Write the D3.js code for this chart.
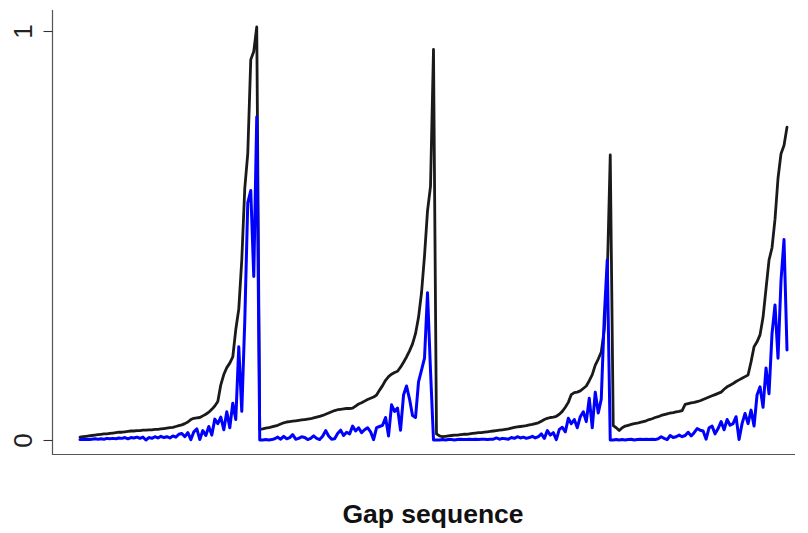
<!DOCTYPE html>
<html>
<head>
<meta charset="utf-8">
<script src="https://cdn.jsdelivr.net/npm/d3@7"></script>
<style>
  html, body { margin: 0; padding: 0; background: #ffffff; }
  svg { display: block; }
</style>
</head>
<body>
<script>
// ---- data ----
const yTickValues = [0, 1];
const yTickLabels = ["0", "1"];
const xLabel = "Gap sequence";

// black series (four cycles)
const blackCycle1 = [.007,.008,.009,.010,.011,.012,.013,.014,.015,.015,.016,.017,.018,.019,.019,.020,.021,.022,.022,.023,
  .023,.024,.024,.025,.025,.026,.026,.027,.028,.029,.030,.031,.033,.035,.037,.040,.044,.050,.053,.054,
  .055,.059,.063,.068,.075,.083,.094,.135,.160,.177,.188,.203,.27,.32,.44,.615,.70,.93,.95,1.01];
const blackCycle2 = [.026,.027,.029,.030,.032,.034,.036,.039,.042,.044,.045,.046,.047,.048,.049,.050,.051,.052,.054,.056,
  .058,.060,.063,.066,.069,.072,.074,.075,.076,.077,.077,.078,.083,.088,.091,.095,.099,.102,.105,.110,
  .122,.133,.146,.155,.161,.165,.168,.178,.190,.203,.218,.235,.26,.30,.36,.45,.56,.62,.955];
const blackCycle3 = [.015,.010,.008,.009,.010,.011,.012,.012,.013,.014,.014,.015,.016,.017,.018,.018,.019,.020,.021,.022,
  .023,.024,.025,.026,.027,.029,.031,.032,.033,.034,.035,.037,.038,.040,.042,.046,.050,.053,.055,.056,
  .058,.063,.070,.080,.092,.111,.116,.117,.120,.126,.132,.145,.160,.183,.198,.215,.27,.40,.697];
const blackCycle4 = [.035,.030,.023,.030,.034,.036,.038,.040,.041,.043,.045,.047,.050,.052,.055,.057,.060,.062,.064,.066,
  .067,.069,.070,.072,.087,.089,.091,.092,.094,.096,.099,.102,.105,.108,.111,.114,.117,.124,.130,.134,
  .138,.143,.147,.151,.155,.159,.191,.228,.240,.257,.30,.37,.44,.47,.54,.64,.70,.72,.765];

// blue series (four cycles)
const blueCycle1 = [.001,.001,.002,.001,.002,.003,.002,.003,.002,.004,.003,.004,.003,.005,.004,.006,.003,.006,.005,.007,
  .004,.007,.000,.006,.004,.008,.005,.009,.006,.008,.005,.010,.007,.014,.016,.008,.018,.001,.020,.027,
  .001,.023,.011,.033,.012,.051,.040,.056,.025,.069,.030,.090,.050,.228,.070,.29,.58,.61,.40,.79];
const blueCycle2 = [.000,.000,.001,.000,.001,.003,.007,.002,.009,.003,.006,.013,.002,.004,.008,.006,.001,.004,.010,.004,
  .001,.009,.023,.010,.002,.003,.016,.024,.011,.019,.015,.034,.022,.030,.018,.025,.030,.020,.001,.030,
  .033,.036,.055,.010,.086,.070,.078,.024,.110,.132,.100,.060,.055,.142,.171,.20,.36,.17,.000];
const blueCycle3 = [.000,.000,.001,.000,.001,.001,.000,.001,.002,.001,.001,.002,.001,.002,.001,.002,.002,.001,.002,.002,
  .005,.002,.004,.003,.002,.006,.004,.008,.005,.007,.004,.006,.009,.005,.008,.015,.004,.023,.012,.018,
  .001,.026,.031,.020,.053,.040,.050,.030,.057,.069,.045,.102,.030,.117,.066,.100,.30,.44,.000];
const blueCycle4 = [.000,.001,.000,.001,.000,.001,.002,.000,.001,.002,.001,.002,.001,.002,.001,.003,.008,.004,.001,.011,
  .006,.008,.012,.008,.011,.019,.010,.018,.028,.024,.022,.002,.030,.034,.015,.028,.045,.025,.050,.036,
  .040,.057,.001,.040,.065,.040,.073,.034,.110,.130,.080,.176,.113,.26,.33,.20,.39,.49,.22];

const blackSeries = [].concat(blackCycle1, blackCycle2, blackCycle3, blackCycle4);
const blueSeries = [].concat(blueCycle1, blueCycle2, blueCycle3, blueCycle4);

// ---- layout ----
const W = 808, H = 533;
const svg = d3.select("body").append("svg").attr("width", W).attr("height", H);

const n = blackSeries.length;
const x = d3.scaleLinear().domain([0, n - 1]).range([80, 787]);
const y = d3.scaleLinear().domain([0, 1]).range([440, 31]);

const fontFam = "'Liberation Sans', Arial, Helvetica, sans-serif";

// L-shaped frame
svg.append("path")
  .attr("d", "M52.5,10 L52.5,454.5 L795,454.5")
  .attr("fill", "none").attr("stroke", "#555").attr("stroke-width", 1.2);

// y axis ticks & labels
const yAxis = d3.axisLeft(y).tickValues(yTickValues).tickSize(9).tickFormat((d, i) => yTickLabels[i]);
const gy = svg.append("g").attr("transform", "translate(52.5,0)").call(yAxis);
gy.select(".domain").remove();
gy.selectAll(".tick line").attr("stroke", "#333").attr("stroke-width", 1.1);
gy.selectAll(".tick text")
  .attr("font-family", fontFam).attr("font-size", 26).attr("fill", "#222")
  .attr("x", 0).attr("y", 0)
  .attr("text-anchor", "middle")
  .attr("transform", "translate(-30,0) rotate(-90)")
  .attr("dy", "0.36em");

// lines
const line = d3.line().x((d, i) => x(i)).y(d => y(d));
svg.append("path").datum(blackSeries).attr("d", line)
  .attr("fill", "none").attr("stroke", "#1a1a1a").attr("stroke-width", 2.8)
  .attr("stroke-linejoin", "round").attr("stroke-linecap", "round");
svg.append("path").datum(blueSeries).attr("d", line)
  .attr("fill", "none").attr("stroke", "#0000ff").attr("stroke-width", 3)
  .attr("stroke-linejoin", "round").attr("stroke-linecap", "round");

// x label
svg.append("text").attr("x", 433).attr("y", 523)
  .attr("text-anchor", "middle").attr("font-family", fontFam)
  .attr("font-weight", "bold").attr("font-size", 26.5).attr("fill", "#111")
  .text(xLabel);
</script>
</body>
</html>
